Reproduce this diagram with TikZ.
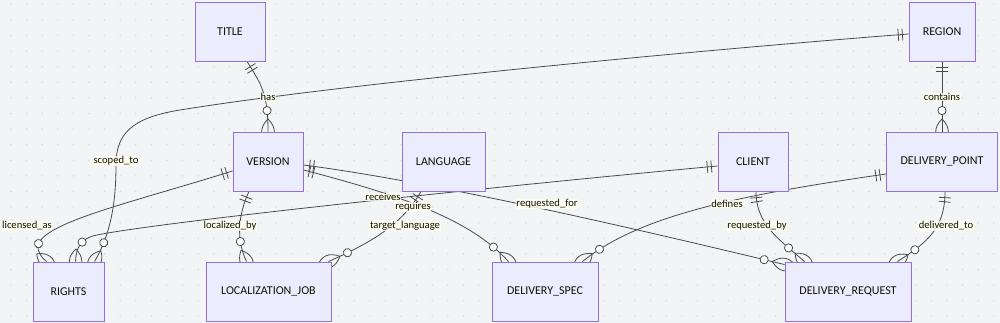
\documentclass[tikz,border=0pt]{standalone}
\usepackage{fontspec}
\setmainfont{Carlito}
\usetikzlibrary{decorations.markings}
\definecolor{bgc}{HTML}{F3F4F6}
\definecolor{dotc}{HTML}{DADBDF}
\definecolor{boxfill}{HTML}{ECECFF}
\definecolor{boxdraw}{HTML}{9370DB}
\definecolor{edgec}{HTML}{4A4A4A}
\definecolor{lblfill}{HTML}{FFFFF0}
\definecolor{txtc}{HTML}{131300}
\pgfdeclarelayer{bg}
\pgfdeclarelayer{edges}
\pgfsetlayers{bg,edges,main}
\tikzset{
  entity/.style={draw=boxdraw, fill=boxfill, line width=0.9pt, minimum height=59pt,
    inner sep=0pt, font=\fontsize{12}{14}\selectfont, text=txtc},
  lbl/.style={fill=lblfill, fill opacity=0.8, text opacity=1, inner sep=0.6pt,
    font=\fontsize{10.6}{12}\selectfont, text=txtc},
  markline/.style={draw=edgec, line width=0.8pt},
  rel/.style={draw=edgec, line width=0.8pt, postaction={decorate},
    decoration={markings,
      mark=at position 6.2pt with {\draw[markline] (0,-6pt) -- (0,6pt);},
      mark=at position 10.3pt with {\draw[markline] (0,-6pt) -- (0,6pt);},
      mark=at position -21pt with {\draw[markline, fill=white] (0,0) circle (4.1pt);},
      mark=at position -0.1pt with {\draw[markline] (-12.5pt,0)
          .. controls (-4.17pt,8.33pt) and (4.17pt,8.33pt) .. (12.5pt,0)
          .. controls (4.17pt,-8.33pt) and (-4.17pt,-8.33pt) .. (-12.5pt,0);}
    }},
}
\begin{document}
\begin{tikzpicture}[x=1pt,y=-1pt]
\begin{pgfonlayer}{bg}
  \fill[bgc] (0,0) rectangle (1000,323);
  \foreach \i in {0,...,63} {\foreach \j in {0,...,20} {
    \fill[dotc] (11+15.6*\i, 4.3+15.6*\j) circle (0.8pt);}}
\end{pgfonlayer}
\useasboundingbox (0,0) rectangle (1000,323);

% entities
\node[entity, minimum width=70pt]  (TITLE)    at (230,31.5)   {TITLE};
\node[entity, minimum width=66pt]  (REGION)   at (942,31.5)   {REGION};
\node[entity, minimum width=70pt]  (VERSION)  at (268,161.5)  {VERSION};
\node[entity, minimum width=83pt]  (LANGUAGE) at (443.5,161.5){LANGUAGE};
\node[entity, minimum width=70pt]  (CLIENT)   at (753,161.5)  {CLIENT};
\node[entity, minimum width=111pt] (DP)       at (942,161.5)  {DELIVERY\_POINT};
\node[entity, minimum width=71pt]  (RIGHTS)   at (68.5,291.5) {RIGHTS};
\node[entity, minimum width=125pt] (LJ)       at (268.5,291.5){LOCALIZATION\_JOB};
\node[entity, minimum width=106pt] (DS)       at (545,291.5)  {DELIVERY\_SPEC};
\node[entity, minimum width=126pt] (DR)       at (848,291.5)  {DELIVERY\_REQUEST};

\begin{pgfonlayer}{edges}
% relationships
\draw[rel] ([xshift=17pt]TITLE.south) .. controls (262,85) and (268,95) .. (VERSION.north);
\draw[rel] (REGION.south) -- (DP.north);
\draw[rel] ([yshift=-2.5pt]REGION.west) .. controls (700,50) and (340,84) .. (180,110)
   .. controls (130,118) and (116,135) .. (116,165)
   .. controls (116,205) and (110,235) .. ([xshift=62pt]RIGHTS.north west);
\draw[rel] ([yshift=-9.5pt]VERSION.west) .. controls (130,203) and (45,222) .. (38,245)
   .. controls (37,252) and (42,258) .. ([xshift=14pt]RIGHTS.north west);
\draw[rel] ([yshift=-4.5pt]CLIENT.west) .. controls (500,186) and (160,222) .. (97,235)
   .. controls (82,238) and (76,246) .. ([xshift=43pt]RIGHTS.north west);
\draw[rel] ([xshift=-19pt]VERSION.south) .. controls (238,215) and (236,240) .. ([xshift=41pt]LJ.north west);
\draw[rel] ([xshift=-22.5pt]LANGUAGE.south) .. controls (400,228) and (365,245) .. ([xshift=-3pt]LJ.north east);
\draw[rel] ([yshift=-8.5pt]VERSION.east) .. controls (420,200) and (475,225) .. ([xshift=17pt]DS.north west);
\draw[rel] ([yshift=-3.5pt]VERSION.east) .. controls (420,180) and (600,220) .. ([yshift=-3pt]DR.north west);
\draw[rel] ([xshift=3pt]CLIENT.south) .. controls (756,225) and (780,240) .. ([xshift=20pt]DR.north west);
\draw[rel] ([yshift=-12.5pt]DP.west) .. controls (740,195) and (640,215) .. ([xshift=-16pt]DS.north east);
\draw[rel] ([xshift=3pt]DP.south) .. controls (945,228) and (928,242) .. ([xshift=-14pt]DR.north east);

% labels
\node[lbl] (lhas)  at (268,97)  {has};
\node[lbl] (lcon)  at (942,97)  {contains};
\node[lbl] (lsco)  at (116,161) {scoped\_to};
\node[lbl] (llic)  at (27,226)  {licensed\_as};
\node[lbl] (lloc)  at (230,226) {localized\_by};
\node[lbl] (lrec)  at (383,197) {receives};
\node[lbl] (lreq)  at (413,207) {requires};
\node[lbl] (ltar)  at (405,226) {target\_language};
\node[lbl] (lrqf)  at (547,204) {requested\_for};
\node[lbl] (ldef)  at (727,204) {defines};
\node[lbl] (lrqb)  at (757,226) {requested\_by};
\node[lbl] (ldel)  at (946,226) {delivered\_to};
\end{pgfonlayer}
\end{tikzpicture}
\end{document}
